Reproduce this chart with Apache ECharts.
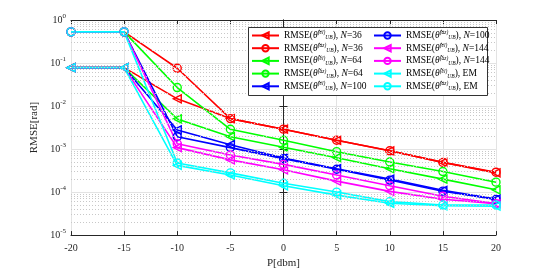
<!DOCTYPE html>
<html><head><meta charset="utf-8">
<script src="https://cdn.jsdelivr.net/npm/echarts@6/dist/echarts.min.js"></script>
<style>html,body{margin:0;padding:0;background:#fff}#c{width:548px;height:274px}</style>
</head><body><div id="c"></div>
<script>
const xVals = [-20, -15, -10, -5, 0, 5, 10, 15, 20];
const el36  = [0.078, 0.078, 0.0147, 0.0051, 0.0029, 0.0016, 0.00091, 0.00049, 0.00028];
const az36  = [0.53, 0.53, 0.0757, 0.0051, 0.0029, 0.0016, 0.00091, 0.00049, 0.00029];
const el64  = [0.078, 0.078, 0.0050, 0.00194, 0.0011, 0.00063, 0.00035, 0.00020, 0.000113];
const az64  = [0.53, 0.53, 0.0269, 0.00288, 0.0016, 0.00087, 0.00050, 0.00030, 0.00017];
const el100 = [0.078, 0.078, 0.00278, 0.00126, 0.00062, 0.00035, 0.00020, 0.00011, 0.000069];
const az100 = [0.53, 0.53, 0.00194, 0.00108, 0.00060, 0.00034, 0.00019, 0.000105, 0.000067];
const el144 = [0.078, 0.078, 0.00108, 0.00056, 0.00033, 0.00018, 0.000104, 0.000068, 0.000054];
const az144 = [0.53, 0.53, 0.00133, 0.00073, 0.00044, 0.00025, 0.00014, 0.00008, 0.000054];
const elEM  = [0.078, 0.078, 0.000418, 0.00025, 0.00014, 0.000085, 0.000055, 0.000048, 0.000047];
const azEM  = [0.53, 0.53, 0.000473, 0.00028, 0.00016, 0.00010, 0.00006, 0.00005, 0.00005];

const TRI = 'path://M0,5 L10,0 L10,10 Z';
const defs = [
  {id:'el36', data: el36, color:'#ff0000', sym:TRI, ang:'el', tail:'N=36'},
  {id:'az36', data: az36, color:'#ff0000', sym:'circle', ang:'az', tail:'N=36'},
  {id:'el64', data: el64, color:'#00ff00', sym:TRI, ang:'el', tail:'N=64'},
  {id:'az64', data: az64, color:'#00ff00', sym:'circle', ang:'az', tail:'N=64'},
  {id:'el100', data: el100, color:'#0000ff', sym:TRI, ang:'el', tail:'N=100'},
  {id:'az100', data: az100, color:'#0000ff', sym:'circle', ang:'az', tail:'N=100'},
  {id:'el144', data: el144, color:'#ff00ff', sym:TRI, ang:'el', tail:'N=144'},
  {id:'az144', data: az144, color:'#ff00ff', sym:'circle', ang:'az', tail:'N=144'},
  {id:'elEM', data: elEM, color:'#00ffff', sym:TRI, ang:'el', tail:'EM'},
  {id:'azEM', data: azEM, color:'#00ffff', sym:'circle', ang:'az', tail:'EM'}
];
const defMap = {};
defs.forEach(d => defMap[d.id] = d);

const minorVals = [];
for (let e = -5; e < 0; e++) for (let k = 2; k <= 9; k++) minorVals.push(k * Math.pow(10, e));

const FONT = '"Liberation Serif", "DejaVu Serif", serif';
const series = defs.map(d => ({
  name: d.id, type: 'line', xAxisIndex: 0, yAxisIndex: 0,
  data: xVals.map((x, i) => [x, d.data[i]]),
  symbol: d.sym, symbolSize: 8,
  showAllSymbol: true,
  lineStyle: {color: d.color, width: 1.6},
  itemStyle: {color: 'rgba(255,255,255,0)', borderColor: d.color, borderWidth: 1.4},
  z: 3, animation: false
}));
series.unshift({
  name: '_minor', type: 'line', data: [], xAxisIndex: 0, yAxisIndex: 0,
  silent: true, animation: false,
  markLine: {
    silent: true, symbol: ['none', 'none'], animation: false, precision: 12,
    label: {show: false},
    lineStyle: {color: '#c8c8c8', type: [1, 2], width: 1},
    data: minorVals.map(v => ({yAxis: v}))
  }
});

const legendFmt = name => {
  const d = defMap[name];
  let tail = d.tail.startsWith('N=') ? '{it|N}{t|=' + d.tail.slice(2) + '}' : '{t|' + d.tail + '}';
  return '{t|RMSE(}{th|θ̃}{sp|(' + d.ang + ')}{sb|UB}{t|), }' + tail;
};
const rich = {
  t:  {fontFamily: FONT, fontSize: 9.5, color: '#000', lineHeight: 11, verticalAlign: 'middle'},
  th: {fontFamily: FONT, fontSize: 9.5, fontStyle: 'italic', color: '#000', lineHeight: 11},
  sp: {fontFamily: FONT, fontSize: 5.5, fontStyle: 'italic', color: '#000', lineHeight: 6, verticalAlign: 'top'},
  sb: {fontFamily: FONT, fontSize: 5.5, fontStyle: 'italic', color: '#000', lineHeight: 6, verticalAlign: 'bottom'},
  it: {fontFamily: FONT, fontSize: 9.5, fontStyle: 'italic', color: '#000', lineHeight: 11}
};
const legendBase = {
  orient: 'vertical', itemWidth: 27, itemHeight: 8, itemGap: 1.7,
  textStyle: {fontFamily: FONT, fontSize: 9.5, color: '#000', lineHeight: 11, rich: rich},
  formatter: legendFmt, selectedMode: false, padding: 0, z: 200
};

const chart = echarts.init(document.getElementById('c'), null, {renderer: 'canvas'});
chart.setOption({
  animation: false,
  backgroundColor: '#fff',
  grid: {left: 71, right: 52, top: 20, bottom: 31, containLabel: false},
  xAxis: [{
    type: 'value', min: -20, max: 20, interval: 5, position: 'bottom',
    name: 'P[dbm]', nameLocation: 'middle', nameGap: 20,
    nameTextStyle: {fontFamily: FONT, fontSize: 11, color: '#262626'},
    axisLine: {show: true, lineStyle: {color: '#262626', width: 1}},
    axisTick: {show: true, inside: true, length: 4, lineStyle: {color: '#262626'}},
    axisLabel: {fontFamily: FONT, fontSize: 10, color: '#262626', margin: 8},
    splitLine: {show: true, lineStyle: {color: '#e3e3e3', width: 1}}
  }, {
    type: 'value', min: -20, max: 20, interval: 5, position: 'top',
    axisLine: {show: true, lineStyle: {color: '#262626', width: 1}},
    axisTick: {show: true, inside: true, length: 4, lineStyle: {color: '#262626'}},
    axisLabel: {show: false}, splitLine: {show: false}
  }],
  yAxis: [{
    type: 'log', logBase: 10, min: 1e-5, max: 1, splitNumber: 5, position: 'left',
    name: 'RMSE[rad]', nameLocation: 'middle', nameGap: 30, nameRotate: 90,
    nameTextStyle: {fontFamily: FONT, fontSize: 11, color: '#262626'},
    axisLine: {show: true, lineStyle: {color: '#262626', width: 1}},
    axisTick: {show: true, inside: true, length: 4, lineStyle: {color: '#262626'}},
    axisLabel: {
      fontFamily: FONT, fontSize: 10, color: '#262626', margin: 5,
      formatter: v => '10{e|' + Math.round(Math.log10(v)) + '}',
      rich: {e: {fontFamily: FONT, fontSize: 7, color: '#262626', padding: [0, 0, 7, 0]}}
    },
    splitLine: {show: true, lineStyle: {color: '#e3e3e3', width: 1}}
  }, {
    type: 'log', logBase: 10, min: 1e-5, max: 1, splitNumber: 5, position: 'right',
    axisLine: {show: true, lineStyle: {color: '#262626', width: 1}},
    axisTick: {show: true, inside: true, length: 4, lineStyle: {color: '#262626'}},
    axisLabel: {show: false}, splitLine: {show: false}
  }],
  legend: [
    Object.assign({}, legendBase, {left: 251, top: 30, data: defs.slice(0, 5).map(d => d.id)}),
    Object.assign({}, legendBase, {left: 373, top: 30, data: defs.slice(5).map(d => d.id)})
  ],
  graphic: [{
    type: 'rect', left: 248, top: 27, z: 100, silent: true,
    shape: {width: 239, height: 68},
    style: {fill: '#fff', stroke: '#333', lineWidth: 1}
  }],
  series: series
});
</script></body></html>
